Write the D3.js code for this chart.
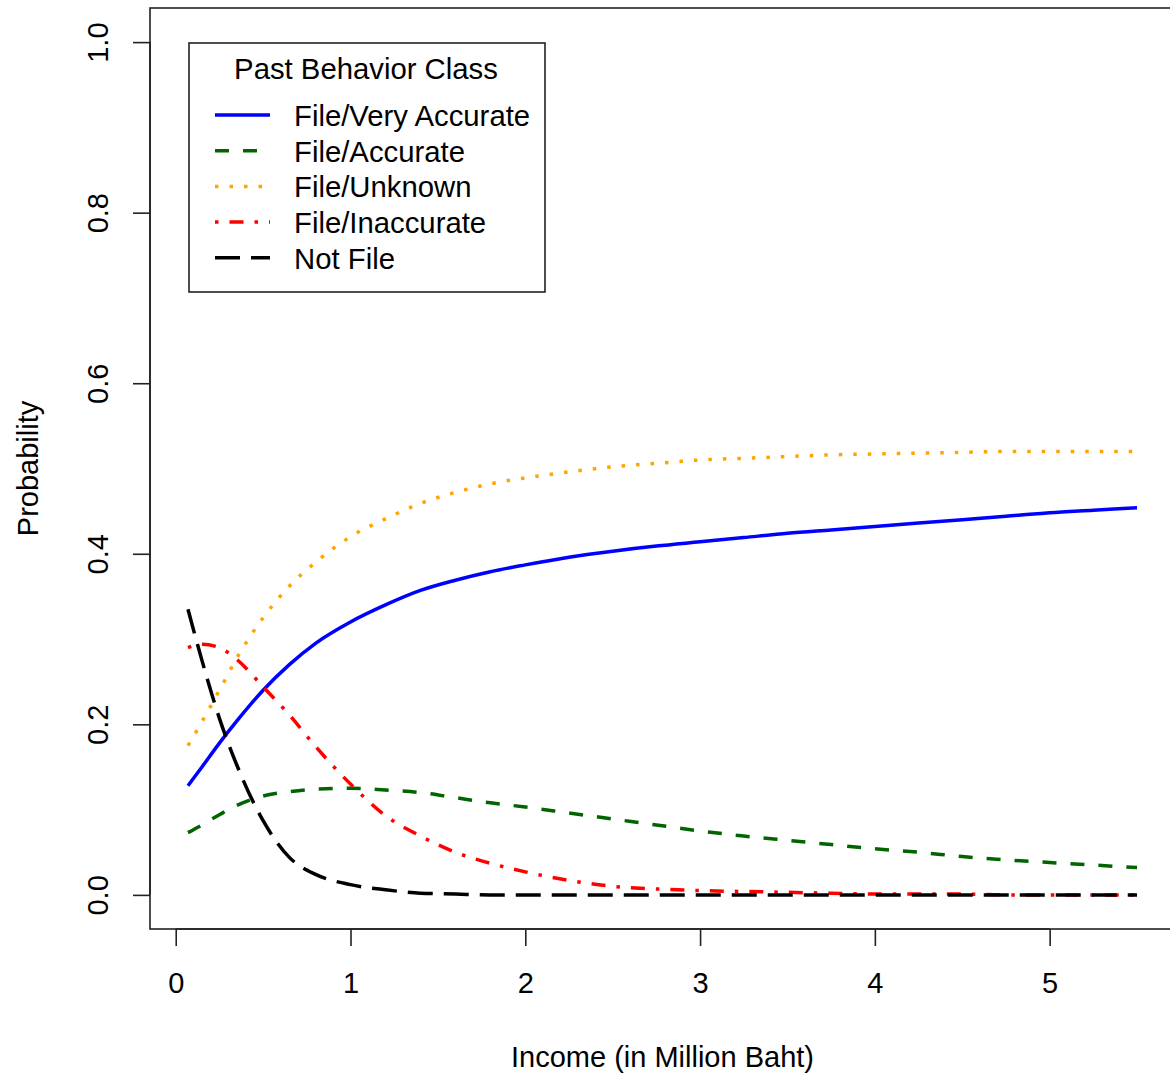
<!DOCTYPE html>
<html>
<head>
<meta charset="utf-8">
<script src="https://cdn.jsdelivr.net/npm/d3@7"></script>
<style>
  html, body { margin: 0; padding: 0; background: #fff; }
  svg { display: block; }
  text { font-family: "Liberation Sans", Arial, sans-serif; fill: #000; }
</style>
</head>
<body>
<svg id="chart" width="1170" height="1077"></svg>
<script>
// ---- data ----
const income = [0.07, 0.15, 0.25, 0.35, 0.5, 0.65, 0.8, 1.0, 1.2, 1.4, 1.6, 1.8, 2.0, 2.25, 2.5, 2.75, 3.0, 3.25, 3.5, 3.75, 4.0, 4.25, 4.5, 4.75, 5.0, 5.25, 5.5];
const fileVeryAccurate = [0.128, 0.150, 0.178, 0.204, 0.240, 0.270, 0.295, 0.320, 0.340, 0.357, 0.369, 0.379, 0.387, 0.396, 0.403, 0.409, 0.414, 0.419, 0.424, 0.428, 0.432, 0.436, 0.440, 0.444, 0.448, 0.451, 0.454];
const fileAccurate     = [0.073, 0.082, 0.094, 0.105, 0.116, 0.121, 0.124, 0.125, 0.123, 0.120, 0.114, 0.108, 0.103, 0.096, 0.089, 0.082, 0.075, 0.069, 0.064, 0.059, 0.054, 0.050, 0.045, 0.041, 0.038, 0.035, 0.032];
const fileUnknown      = [0.175, 0.203, 0.240, 0.278, 0.325, 0.362, 0.390, 0.420, 0.441, 0.459, 0.472, 0.482, 0.489, 0.496, 0.502, 0.506, 0.510, 0.512, 0.514, 0.516, 0.517, 0.518, 0.519, 0.520, 0.520, 0.520, 0.520];
const fileInaccurate   = [0.290, 0.294, 0.290, 0.276, 0.244, 0.211, 0.174, 0.130, 0.093, 0.069, 0.050, 0.037, 0.027, 0.017, 0.010, 0.007, 0.005, 0.004, 0.003, 0.002, 0.001, 0.001, 0.001, 0.000, 0.000, 0.000, 0.000];
const notFile          = [0.335, 0.275, 0.207, 0.152, 0.087, 0.044, 0.024, 0.012, 0.006, 0.002, 0.001, 0.000, 0.000, 0.000, 0.000, 0.000, 0.000, 0.000, 0.000, 0.000, 0.000, 0.000, 0.000, 0.000, 0.000, 0.000, 0.000];

const seriesNames = ["File/Very Accurate", "File/Accurate", "File/Unknown", "File/Inaccurate", "Not File"];
const seriesColors = ["#0000FF", "#006400", "#FFA500", "#FF0000", "#000000"];
const seriesDash = ["none", "14,14", "3.5,11", "3.5,11,14,11", "25,11"];
const seriesValues = [fileVeryAccurate, fileAccurate, fileUnknown, fileInaccurate, notFile];

const xTicks = [0, 1, 2, 3, 4, 5];
const yTicks = [0.0, 0.2, 0.4, 0.6, 0.8, 1.0];

const legendTitle = "Past Behavior Class";
const xLabel = "Income (in Million Baht)";
const yLabel = "Probability";

// ---- layout ----
const svg = d3.select("#chart");
const plot = { left: 150, right: 1175, top: 8, bottom: 929 };

const xMin = d3.min(income), xMax = d3.max(income);
const xPad = (xMax - xMin) * 0.04;
const x = d3.scaleLinear().domain([xMin - xPad, xMax + xPad]).range([plot.left, plot.right]);
const y = d3.scaleLinear().domain([-0.04, 1.04]).range([plot.bottom, plot.top]);

svg.append("rect").attr("width", 1170).attr("height", 1077).attr("fill", "#fff");

svg.append("clipPath").attr("id", "clip")
  .append("rect").attr("x", plot.left).attr("y", plot.top)
  .attr("width", plot.right - plot.left).attr("height", plot.bottom - plot.top);

// lines
const line = d3.line().x(d => x(d[0])).y(d => y(d[1])).curve(d3.curveMonotoneX);
const lineG = svg.append("g").attr("clip-path", "url(#clip)");
seriesValues.forEach((vals, i) => {
  lineG.append("path")
    .datum(income.map((xv, j) => [xv, vals[j]]))
    .attr("d", line)
    .attr("fill", "none")
    .attr("stroke", seriesColors[i])
    .attr("stroke-width", 3.5)
    .attr("stroke-dasharray", seriesDash[i])
    .attr("stroke-linecap", "butt")
    .attr("stroke-linejoin", "round");
});

// box
svg.append("rect")
  .attr("x", plot.left).attr("y", plot.top)
  .attr("width", plot.right - plot.left).attr("height", plot.bottom - plot.top)
  .attr("fill", "none").attr("stroke", "#222").attr("stroke-width", 1.6);

// x axis (R style: axis line only between first and last tick)
const xAxis = d3.axisBottom(x).tickValues(xTicks).tickSizeInner(17).tickSizeOuter(0)
  .tickPadding(26).tickFormat(d3.format("d"));
const xg = svg.append("g").attr("transform", `translate(0,${plot.bottom})`).call(xAxis);
xg.select(".domain").attr("d", `M${x(xTicks[0])},0H${x(xTicks[xTicks.length - 1])}`)
  .attr("stroke", "#222").attr("stroke-width", 1.6);
xg.selectAll(".tick line").attr("stroke", "#222").attr("stroke-width", 1.6);
xg.selectAll(".tick text").attr("font-size", 29).attr("font-family", "Liberation Sans, Arial, sans-serif").attr("fill", "#000");

// y axis (R style: rotated labels)
const yAxis = d3.axisLeft(y).tickValues(yTicks).tickSizeInner(17).tickSizeOuter(0).tickFormat(d3.format(".1f"));
const yg = svg.append("g").attr("transform", `translate(${plot.left},0)`).call(yAxis);
yg.select(".domain").attr("d", `M0,${y(yTicks[0])}V${y(yTicks[yTicks.length - 1])}`)
  .attr("stroke", "#222").attr("stroke-width", 1.6);
yg.selectAll(".tick line").attr("stroke", "#222").attr("stroke-width", 1.6);
yg.selectAll(".tick text")
  .attr("font-size", 29).attr("font-family", "Liberation Sans, Arial, sans-serif").attr("fill", "#000")
  .attr("x", null).attr("dy", null)
  .attr("text-anchor", "middle")
  .attr("transform", "translate(-42,0) rotate(-90)");

// axis titles
svg.append("text")
  .attr("x", (plot.left + plot.right) / 2).attr("y", 1067)
  .attr("text-anchor", "middle").attr("font-size", 29)
  .text(xLabel);
svg.append("text")
  .attr("transform", `translate(38,${(plot.top + plot.bottom) / 2}) rotate(-90)`)
  .attr("text-anchor", "middle").attr("font-size", 29)
  .text(yLabel);

// legend
const lg = svg.append("g");
lg.append("rect").attr("x", 189).attr("y", 43).attr("width", 356).attr("height", 249)
  .attr("fill", "#fff").attr("stroke", "#222").attr("stroke-width", 1.6);
lg.append("text").attr("x", 366).attr("y", 79).attr("text-anchor", "middle")
  .attr("font-size", 29.3).text(legendTitle);
seriesNames.forEach((name, i) => {
  const cy = 115 + i * 35.7;
  lg.append("line").attr("x1", 215).attr("x2", 270).attr("y1", cy).attr("y2", cy)
    .attr("stroke", seriesColors[i]).attr("stroke-width", 3.5)
    .attr("stroke-dasharray", seriesDash[i]);
  lg.append("text").attr("x", 294).attr("y", cy + 11).attr("font-size", 29.3).text(name);
});
</script>
</body>
</html>
